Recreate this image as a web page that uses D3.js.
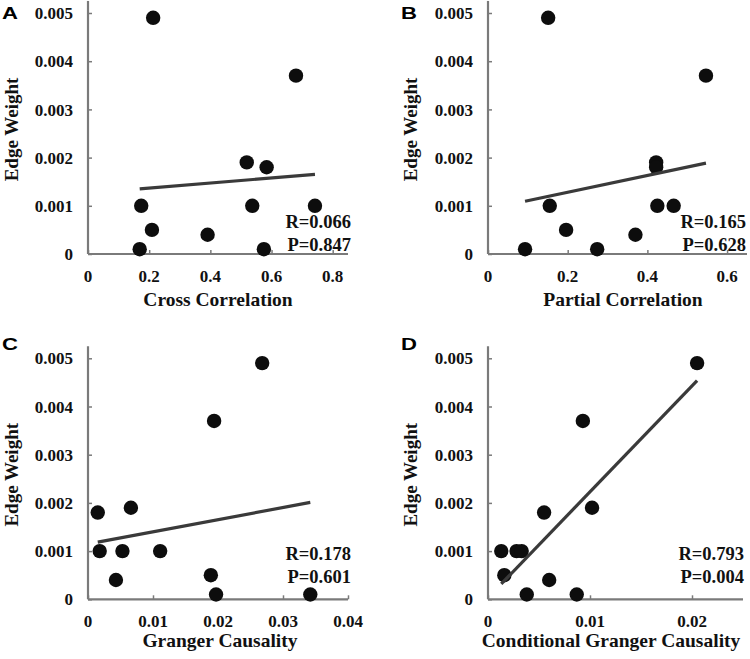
<!DOCTYPE html>
<html>
<head>
<meta charset="utf-8">
<script src="https://cdn.jsdelivr.net/npm/d3@7"></script>
<style>
  html, body { margin: 0; padding: 0; background: #fff; }
  svg { display: block; }
</style>
</head>
<body>
<svg id="chart" width="750" height="659"></svg>
<script>
// ---- data ----
const edgeWeight = [0.0049, 0.0037, 0.0019, 0.0018, 0.001, 0.001, 0.001, 0.0005, 0.0004, 0.0001, 0.0001];
const crossCorrelation = [0.213, 0.68, 0.519, 0.584, 0.174, 0.537, 0.742, 0.209, 0.391, 0.169, 0.575];
const partialCorrelation = [0.151, 0.547, 0.422, 0.422, 0.155, 0.425, 0.466, 0.196, 0.37, 0.093, 0.274];
const grangerCausality = [0.0268, 0.0194, 0.0066, 0.0015, 0.0018, 0.0053, 0.0111, 0.0189, 0.0043, 0.0197, 0.0342];
const conditionalGranger = [0.0205, 0.0093, 0.0102, 0.0055, 0.0013, 0.0028, 0.0033, 0.0016, 0.006, 0.0038, 0.0087];

const panelLetters = ["A", "B", "C", "D"];
const xTitles = ["Cross Correlation", "Partial Correlation", "Granger Causality", "Conditional Granger Causality"];
const xDomainsMax = [0.85, 0.65, 0.04, 0.025];
const xTickValues = [[0, 0.2, 0.4, 0.6, 0.8], [0, 0.2, 0.4, 0.6], [0, 0.01, 0.02, 0.03, 0.04], [0, 0.01, 0.02]];
const xTickLabels = [["0", "0.2", "0.4", "0.6", "0.8"], ["0", "0.2", "0.4", "0.6"], ["0", "0.01", "0.02", "0.03", "0.04"], ["0", "0.01", "0.02"]];
const yTickValues = [0, 0.001, 0.002, 0.003, 0.004, 0.005];
const yTickLabels = ["0", "0.001", "0.002", "0.003", "0.004", "0.005"];
const yTitle = "Edge Weight";
const rTexts = ["R=0.066", "R=0.165", "R=0.178", "R=0.793"];
const pTexts = ["P=0.847", "P=0.628", "P=0.601", "P=0.004"];
const xSeries = [crossCorrelation, partialCorrelation, grangerCausality, conditionalGranger];

// ---- layout ----
const layout = [
  { left: 88, right: 348, base: 254, letterX: 2, letterY: 19, titleX: 218, titleY: 306, yTitleX: 17.5, statsRight: 351, rY: 228, pY: 251 },
  { left: 488, right: 747, base: 254, letterX: 401, letterY: 19, titleX: 623, titleY: 306, yTitleX: 417, statsRight: 746, rY: 228, pY: 251 },
  { left: 88, right: 348, base: 599.3, letterX: 2, letterY: 350, titleX: 220, titleY: 647, yTitleX: 17.5, statsRight: 351, rY: 560, pY: 583 },
  { left: 488, right: 743, base: 599.3, letterX: 401, letterY: 350, titleX: 611, titleY: 647, yTitleX: 417, statsRight: 744, rY: 560, pY: 583 }
];
const pxPerUnitY = 48.2 / 0.001;
const yMax = 0.00525;

const svg = d3.select("#chart");
const serif = "'Liberation Serif', 'Times New Roman', serif";
const axisColor = "#7a7a7a";

layout.forEach((L, i) => {
  const g = svg.append("g");
  const x = d3.scaleLinear().domain([0, xDomainsMax[i]]).range([L.left, L.right]);
  const y = d3.scaleLinear().domain([0, yMax]).range([L.base, L.base - yMax * pxPerUnitY]);

  // y axis
  const yAxis = d3.axisRight(y).tickValues(yTickValues).tickSize(4).tickFormat(() => "");
  const ya = g.append("g").attr("transform", `translate(${L.left},0)`).call(yAxis);
  ya.select(".domain").attr("stroke", axisColor).attr("stroke-width", 2.2).attr("d", `M0,${y(0)}V${y(yMax)}`);
  ya.selectAll(".tick line").attr("stroke", axisColor).attr("stroke-width", 1.5);
  g.selectAll(".ylab").data(yTickValues).enter().append("text")
    .attr("x", L.left - 15).attr("y", d => y(d)).attr("dy", "0.36em")
    .attr("text-anchor", "end").attr("font-family", serif).attr("font-weight", "bold")
    .attr("font-size", 17).attr("fill", "#111").text((d, k) => yTickLabels[k]);

  // x axis
  const xAxis = d3.axisTop(x).tickValues(xTickValues[i]).tickSize(4).tickFormat(() => "");
  const xa = g.append("g").attr("transform", `translate(0,${L.base})`).call(xAxis);
  xa.select(".domain").attr("stroke", axisColor).attr("stroke-width", 2.2).attr("d", `M${L.left},0H${L.right}`);
  xa.selectAll(".tick line").attr("stroke", axisColor).attr("stroke-width", 1.5);
  g.selectAll(".xlab").data(xTickValues[i]).enter().append("text")
    .attr("x", d => x(d)).attr("y", L.base + 28)
    .attr("text-anchor", "middle").attr("font-family", serif).attr("font-weight", "bold")
    .attr("font-size", 17).attr("fill", "#111").text((d, k) => xTickLabels[i][k]);

  // titles
  g.append("text").attr("x", L.titleX).attr("y", L.titleY).attr("text-anchor", "middle")
    .attr("font-family", serif).attr("font-weight", "bold").attr("font-size", 19.5).attr("fill", "#111")
    .text(xTitles[i]);
  const yc = (y(0) + y(0.005)) / 2 - 4;
  g.append("text").attr("transform", `translate(${L.yTitleX},${yc}) rotate(-90)`).attr("text-anchor", "middle")
    .attr("font-family", serif).attr("font-weight", "bold").attr("font-size", 19).attr("fill", "#111")
    .text(yTitle);

  // panel letter
  g.append("text").attr("transform", `translate(${L.letterX},${L.letterY}) scale(1.3,1)`)
    .attr("font-family", "'Liberation Sans', Arial, sans-serif").attr("font-weight", "bold")
    .attr("font-size", 17).attr("fill", "#000").text(panelLetters[i]);

  // points
  const pts = xSeries[i].map((v, k) => ({ x: v, y: edgeWeight[k] }));
  g.selectAll(".dot").data(pts).enter().append("circle")
    .attr("cx", d => x(d.x)).attr("cy", d => y(d.y)).attr("r", 7.2).attr("fill", "#0d0d0d");

  // regression line
  const mx = d3.mean(pts, d => d.x), my = d3.mean(pts, d => d.y);
  const sxy = d3.sum(pts, d => (d.x - mx) * (d.y - my));
  const sxx = d3.sum(pts, d => (d.x - mx) * (d.x - mx));
  const slope = sxy / sxx, icpt = my - slope * mx;
  const [x0, x1] = d3.extent(pts, d => d.x);
  g.append("line")
    .attr("x1", x(x0)).attr("y1", y(icpt + slope * x0))
    .attr("x2", x(x1)).attr("y2", y(icpt + slope * x1))
    .attr("stroke", "#3a3a3a").attr("stroke-width", 3.2);

  // stats
  g.append("text").attr("x", L.statsRight).attr("y", L.rY).attr("text-anchor", "end")
    .attr("font-family", serif).attr("font-weight", "bold").attr("font-size", 18.5).attr("fill", "#111")
    .text(rTexts[i]);
  g.append("text").attr("x", L.statsRight).attr("y", L.pY).attr("text-anchor", "end")
    .attr("font-family", serif).attr("font-weight", "bold").attr("font-size", 18.5).attr("fill", "#111")
    .text(pTexts[i]);
});
</script>
</body>
</html>
